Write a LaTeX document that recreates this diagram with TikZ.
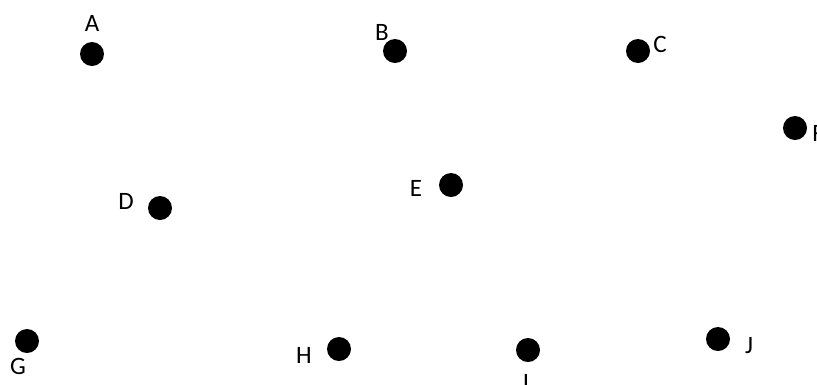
\documentclass[tikz,border=0pt]{standalone}
\usepackage{fontspec}
\setmainfont{Carlito}
\usetikzlibrary{positioning}

\begin{document}
\begin{tikzpicture}[
  x=1pt, y=-1pt,
  dot/.style={circle, fill=black, minimum size=24pt, inner sep=0pt},
  lbl/.style={inner sep=0pt, font=\fontsize{25}{30}\selectfont}
]
\useasboundingbox (0,0) rectangle (817,384);
% points
\node[dot] (A) at (92,54) {};
\node[dot] (B) at (395,51) {};
\node[dot] (C) at (638,51) {};
\node[dot] (F) at (795,128) {};
\node[dot] (D) at (160,208) {};
\node[dot] (E) at (451,185) {};
\node[dot] (G) at (27,341) {};
\node[dot] (H) at (339,349) {};
\node[dot] (I) at (528,350) {};
\node[dot] (J) at (718,339) {};
% letters
\node[lbl] (lA) at (92,23) {A};
\node[lbl] (lB) at (382,32) {B};
\node[lbl] (lC) at (660,44) {C};
\node[lbl] (lF) at (818,133) {F};
\node[lbl] (lD) at (126,201) {D};
\node[lbl] (lE) at (416,188) {E};
\node[lbl] (lG) at (18,366) {G};
\node[lbl] (lH) at (304,355) {H};
\node[lbl] (lI) at (526,382) {I};
\node[lbl] (lJ) at (749,346) {J};
\end{tikzpicture}
\end{document}
